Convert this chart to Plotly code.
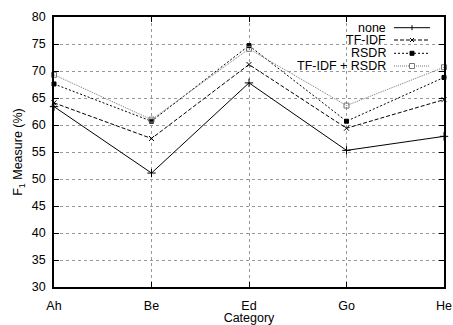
import plotly.graph_objects as go

categories = ["Ah", "Be", "Ed", "Go", "He"]
none_vals = [63.4, 51.1, 67.8, 55.3, 57.9]
tfidf_vals = [64.1, 57.5, 71.2, 59.4, 64.7]
rsdr_vals = [67.6, 60.7, 74.7, 60.7, 68.8]
tfidf_rsdr_vals = [69.3, 61.0, 74.1, 63.6, 70.7]
series_names = ["none", "TF-IDF", "RSDR", "TF-IDF + RSDR"]
y_ticks = list(range(30, 81, 5))

W, H = 453, 325
ML, MR, MT, MB = 54, 9, 17, 38
PW, PH = W - ML - MR, H - MT - MB

styles = [
    dict(color="black", dash="solid", symbol="cross-thin", size=6, lw=1),
    dict(color="black", dash="4px,2px", symbol="x-thin", size=5, lw=1),
    dict(color="black", dash="2px,2px", symbol="square", size=4, lw=1),
    dict(color="#777777", dash="1px,1px", symbol="square-open", size=5, lw=1),
]
all_vals = [none_vals, tfidf_vals, rsdr_vals, tfidf_rsdr_vals]

fig = go.Figure()
for name, vals, st in zip(series_names, all_vals, styles):
    fig.add_trace(go.Scatter(
        x=categories, y=vals, name=name, mode="lines+markers",
        line=dict(color=st["color"], dash=st["dash"], width=st["lw"]),
        marker=dict(symbol=st["symbol"], size=st["size"], color=st["color"],
                    line=dict(color=st["color"], width=1)),
        showlegend=False, cliponaxis=False,
    ))

def px_x(p):
    return (p - ML) / PW

def px_y(p):
    return (H - MB - p) / PH

shapes = []
annotations = []
# legend background box
shapes.append(dict(type="rect", xref="paper", yref="paper",
                   x0=px_x(290), x1=px_x(443), y0=px_y(72), y1=px_y(19),
                   fillcolor="white", line=dict(width=0), layer="between"))
legend_rows = [27.7, 40.0, 53.3, 66.0]
for name, st, ry in zip(series_names, styles, legend_rows):
    annotations.append(dict(text=name, xref="paper", yref="paper",
                            x=px_x(387), y=px_y(ry), xanchor="right", yanchor="middle",
                            height=12, valign="middle", borderpad=0,
                            showarrow=False, font=dict(size=12.5, color="black")))
    shapes.append(dict(type="line", xref="paper", yref="paper",
                       x0=px_x(394), x1=px_x(430), y0=px_y(ry), y1=px_y(ry),
                       line=dict(color=st["color"], dash=st["dash"], width=1)))
    cx, cy = 412, ry
    if st["symbol"] == "cross-thin":
        shapes.append(dict(type="line", xref="paper", yref="paper",
                           x0=px_x(cx), x1=px_x(cx), y0=px_y(cy - 2.5), y1=px_y(cy + 2.5),
                           line=dict(color="black", width=1)))
    elif st["symbol"] == "x-thin":
        shapes.append(dict(type="line", xref="paper", yref="paper",
                           x0=px_x(cx - 2), x1=px_x(cx + 2), y0=px_y(cy - 2), y1=px_y(cy + 2),
                           line=dict(color="black", width=1)))
        shapes.append(dict(type="line", xref="paper", yref="paper",
                           x0=px_x(cx - 2), x1=px_x(cx + 2), y0=px_y(cy + 2), y1=px_y(cy - 2),
                           line=dict(color="black", width=1)))
    elif st["symbol"] == "square":
        shapes.append(dict(type="rect", xref="paper", yref="paper",
                           x0=px_x(cx - 2), x1=px_x(cx + 2), y0=px_y(cy + 2), y1=px_y(cy - 2),
                           fillcolor="black", line=dict(color="black", width=1)))
    else:
        shapes.append(dict(type="rect", xref="paper", yref="paper",
                           x0=px_x(cx - 2.5), x1=px_x(cx + 2.5), y0=px_y(cy + 2.5), y1=px_y(cy - 2.5),
                           fillcolor="white", line=dict(color=st["color"], width=1)))

fig.update_layout(
    width=W, height=H,
    margin=dict(l=ML, r=MR, t=MT, b=MB, pad=0, autoexpand=False),
    paper_bgcolor="white", plot_bgcolor="white",
    font=dict(family="Liberation Sans, Arial, sans-serif", size=12.5, color="black"),
    shapes=shapes, annotations=annotations,
    xaxis=dict(
        type="category", categoryorder="array", categoryarray=categories,
        range=[0, len(categories) - 1], automargin=False,
        showline=True, linecolor="black", linewidth=1.5, mirror="ticks",
        ticks="inside", ticklen=5, tickcolor="black",
        showgrid=True, gridcolor="#999999", griddash="dot", gridwidth=1,
        ticklabelstandoff=6,
        title=dict(text="Category", standoff=7, font=dict(size=12.5)),
        zeroline=False,
    ),
    yaxis=dict(
        range=[30, 80], tickvals=y_ticks, automargin=False,
        showline=True, linecolor="black", linewidth=1.5, mirror="ticks",
        ticks="inside", ticklen=5, tickcolor="black",
        showgrid=True, gridcolor="#999999", griddash="dot", gridwidth=1,
        ticklabelstandoff=4,
        title=dict(text="F<sub>1</sub> Measure (%)", standoff=6, font=dict(size=12.5)),
        zeroline=False,
    ),
)

fig.write_html(
    "out.html",
    config={"displayModeBar": False},
    post_script="document.body.style.margin='0';document.body.style.padding='0';document.body.style.overflow='hidden';",
)
